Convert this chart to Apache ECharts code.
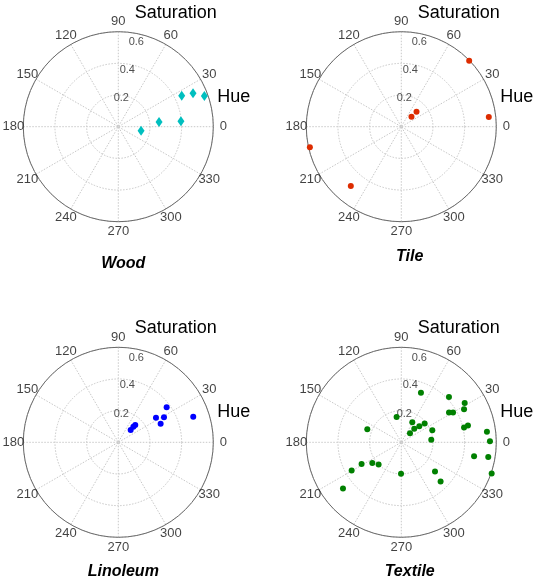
<!DOCTYPE html>
<html>
<head>
<meta charset="utf-8">
<script src="https://cdn.jsdelivr.net/npm/echarts@6/dist/echarts.min.js"></script>
<style>
html,body{margin:0;padding:0;background:#fff;}
#chart{width:533px;height:583px;}
</style>
</head>
<body>
<div id="chart"></div>
<script>
// ---- data (hue in degrees, saturation) ----
const materials = ['Wood', 'Tile', 'Linoleum', 'Textile'];
const woodHue = [26.1, 24.1, 19.6, 6.6, 4.9, 350.0];
const woodSat = [0.446, 0.517, 0.577, 0.259, 0.397, 0.146];
const tileHue = [44.2, 6.3, 44.6, 44.4, 192.7, 229.6];
const tileSat = [0.598, 0.556, 0.135, 0.090, 0.592, 0.492];
const linoleumHue = [35.9, 33.1, 28.7, 23.7, 18.8, 45.5, 46.0, 44.8];
const linoleumSat = [0.377, 0.284, 0.329, 0.292, 0.500, 0.153, 0.137, 0.110];
const textileHue = [68.4, 43.5, 31.8, 27.8, 31.9, 29.9, 100.5, 61.2, 38.7, 41.6, 46.5, 46.0, 21.2, 159.0, 14.1, 13.2, 7.1, 5.1, 0.6, 349.1, 350.4, 340.9, 319.0, 315.0, 269.5, 224.5, 215.5, 208.7, 209.7, 218.4];
const textileSat = [0.337, 0.415, 0.471, 0.448, 0.355, 0.377, 0.163, 0.144, 0.189, 0.152, 0.119, 0.079, 0.210, 0.230, 0.434, 0.407, 0.545, 0.190, 0.560, 0.468, 0.557, 0.604, 0.282, 0.351, 0.198, 0.201, 0.225, 0.286, 0.361, 0.470];
const angleTicks = [0, 30, 60, 90, 120, 150, 180, 210, 240, 270, 300, 330];
const radiusTicks = [0.2, 0.4, 0.6];
const radiusMax = 0.6;

const hues = [woodHue, tileHue, linoleumHue, textileHue];
const sats = [woodSat, tileSat, linoleumSat, textileSat];
const colors = ['#00bfbf', '#dd2c00', '#0000ff', '#008000'];
const symbols = ['diamond', 'circle', 'circle', 'circle'];
const symbolSizes = [[7, 10], 6, 6, 6];

const centers = [[118.3, 126.7], [401.3, 126.7], [118.3, 442.3], [401.3, 442.3]];
const R = 95;
const RL = 105; // radius of the ring on which hue tick labels are centred
const titlePos = [[123.3, 263.3], [409.7, 256.7], [123.3, 571.7], [409.7, 571.7]];
const FONT = '"Liberation Sans", Arial, Helvetica, sans-serif';

const polar = [], angleAxis = [], radiusAxis = [], series = [], graphic = [];
const gridStyle = { color: '#c8c8c8', width: 1, type: [1.5, 1.5] };

materials.forEach((m, i) => {
  polar.push({ center: centers[i], radius: R });
  angleAxis.push({
    polarIndex: i, type: 'value', min: 0, max: 360, interval: 30,
    startAngle: 0, clockwise: false,
    axisLine: { show: true, lineStyle: { color: '#6a6a6a', width: 1 } },
    axisTick: { show: false }, axisLabel: { show: false },
    splitLine: { show: true, lineStyle: gridStyle }
  });
  radiusAxis.push({
    polarIndex: i, type: 'value', min: 0, max: radiusMax, interval: 0.2,
    axisLine: { show: false }, axisTick: { show: false }, axisLabel: { show: false },
    splitLine: { show: true, lineStyle: gridStyle }
  });
  // data points
  series.push({
    type: 'scatter', coordinateSystem: 'polar', polarIndex: i, name: m,
    symbol: symbols[i], symbolSize: symbolSizes[i], clip: false,
    itemStyle: { color: colors[i], opacity: 1 },
    data: hues[i].map((h, k) => [sats[i][k], h]),
    z: 5, silent: true
  });
  // angle tick labels
  series.push({
    type: 'scatter', coordinateSystem: 'polar', polarIndex: i,
    symbolSize: 1, silent: true, clip: false,
    itemStyle: { color: 'rgba(0,0,0,0)' },
    data: angleTicks.map(a => [radiusMax * RL / R, a]),
    label: { show: true, position: 'inside', formatter: p => String(angleTicks[p.dataIndex]),
      fontFamily: FONT, fontSize: 13, color: '#111' },
    labelLayout: { hideOverlap: false }
  });
  // radius tick labels
  series.push({
    type: 'scatter', coordinateSystem: 'polar', polarIndex: i,
    symbolSize: 1, silent: true, clip: false,
    itemStyle: { color: 'rgba(0,0,0,0)' },
    data: radiusTicks.map((r, k) => [r * 0.91, 84 - 3 * k]),
    label: { show: true, position: 'inside', formatter: p => radiusTicks[p.dataIndex].toFixed(1),
      fontFamily: FONT, fontSize: 11, color: '#222' }
  });
  const [cx, cy] = centers[i];
  graphic.push({ type: 'text', x: cx + 57.4, y: cy - 114, silent: true,
    style: { text: 'Saturation', font: '18px ' + FONT, fill: '#000', align: 'center', verticalAlign: 'middle' } });
  graphic.push({ type: 'text', x: cx + 99, y: cy - 30, silent: true,
    style: { text: 'Hue', font: '18px ' + FONT, fill: '#000', align: 'left', verticalAlign: 'middle' } });
  graphic.push({ type: 'text', x: titlePos[i][0], y: titlePos[i][1], silent: true,
    style: { text: m, font: 'italic bold 16px ' + FONT, fill: '#000', align: 'center', verticalAlign: 'middle' } });
});

const chart = echarts.init(document.getElementById('chart'), null, { renderer: 'canvas' });
chart.setOption({
  animation: false,
  backgroundColor: '#fff',
  polar, angleAxis, radiusAxis, series, graphic
});
</script>
</body>
</html>
